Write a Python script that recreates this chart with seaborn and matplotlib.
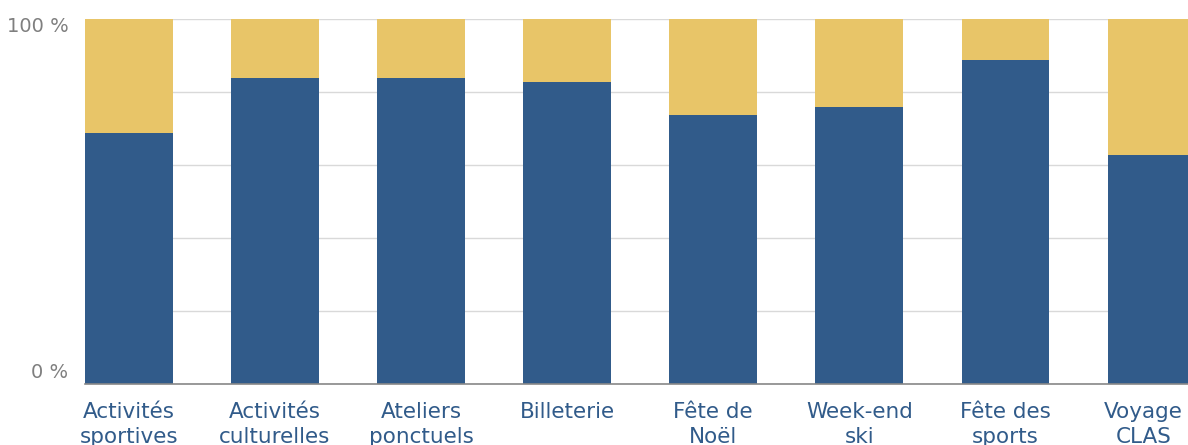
import matplotlib
matplotlib.use("Agg")
import matplotlib.pyplot as plt
import matplotlib.transforms as mtransforms
import seaborn as sns
import pandas as pd

# data
categories = ["Activités\nsportives", "Activités\nculturelles", "Ateliers\nponctuels",
              "Billeterie", "Fête de\nNoël", "Week-end\nski", "Fête des\nsports", "Voyage\nCLAS"]
part_blue = [68.8, 83.8, 83.8, 82.7, 73.7, 75.9, 88.8, 62.7]
part_yellow = [100 - v for v in part_blue]

df = pd.DataFrame({"cat": categories, "blue": part_blue, "yellow": part_yellow})
df["total"] = df["blue"] + df["yellow"]

sns.set_style("white")
plt.rcParams["font.family"] = ["DejaVu Sans"]

blue = "#315b8a"
yellow = "#e8c568"

fig = plt.figure(figsize=(11.88, 4.45), dpi=100)
ax = fig.add_axes([85 / 1188, 61 / 445, 1 - 85 / 1188, 365 / 445])

sns.barplot(data=df, x="cat", y="total", color=yellow, width=0.6, saturation=1,
            linewidth=0, ax=ax, zorder=2)
sns.barplot(data=df, x="cat", y="blue", color=blue, width=0.6, saturation=1,
            linewidth=0, ax=ax, zorder=3)

ax.set_ylim(0, 100)
ax.set_xlim(-0.3, 7.25)
ax.set_yticks([0, 20, 40, 60, 80, 100])
ax.set_yticklabels(["0 %", "", "", "", "", "100 %"])
ax.yaxis.grid(True, color="#d9d9d9", linewidth=1, zorder=0)
ax.set_axisbelow(True)
ax.set_xlabel("")
ax.set_ylabel("")

for s in ["top", "right", "left"]:
    ax.spines[s].set_visible(False)
ax.spines["bottom"].set_color("#888888")
ax.spines["bottom"].set_linewidth(1.2)
ax.spines["bottom"].set_zorder(4)

ax.tick_params(axis="y", length=0, pad=12, labelsize=14, labelcolor="#7f7f7f")
ax.tick_params(axis="x", length=0, pad=13, labelsize=15.5, labelcolor=blue)
for lbl in ax.get_xticklabels():
    lbl.set_linespacing(1.3)

# last label sits a little left so it stays inside the figure
xlbls = ax.get_xticklabels()
xlbls[-1].set_transform(xlbls[-1].get_transform() + mtransforms.ScaledTranslation(-8 / 100, 0, fig.dpi_scale_trans))

# nudge the y labels like the reference (100 % a bit low, 0 % a bit high)
ylbls = ax.get_yticklabels()
ylbls[0].set_transform(ylbls[0].get_transform() + mtransforms.ScaledTranslation(0, 13 / 100, fig.dpi_scale_trans))
ylbls[-1].set_transform(ylbls[-1].get_transform() + mtransforms.ScaledTranslation(0, -5 / 100, fig.dpi_scale_trans))

fig.savefig("out.png", dpi=100)
